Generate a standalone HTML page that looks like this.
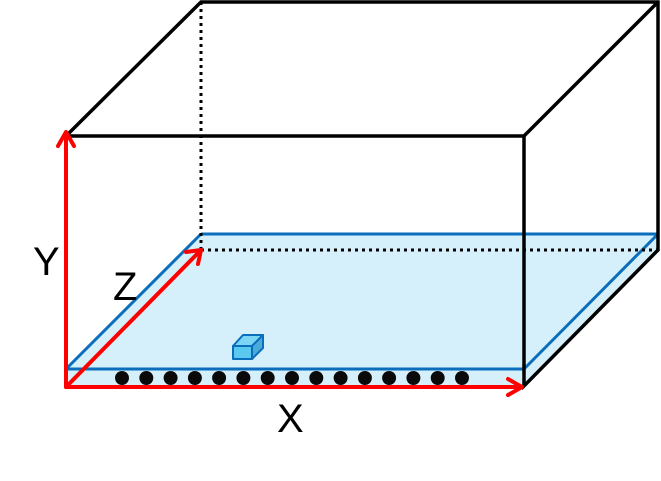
<!DOCTYPE html>
<html><head><style>html,body{margin:0;padding:0;background:#fff}</style></head>
<body>
<svg width="661" height="476" viewBox="0 0 661 476" xmlns="http://www.w3.org/2000/svg">
<!-- water -->
<polygon points="66,369 201,234 658,234 658,250 524,386 66,386" fill="#d6f0fb"/>
<g stroke="#0a6ebd" stroke-width="3" fill="none">
<line x1="201" y1="234" x2="658" y2="234"/>
<line x1="66" y1="369" x2="524" y2="369"/>
<line x1="66" y1="369" x2="201" y2="234"/>
<line x1="524" y1="369" x2="658" y2="234"/>
</g>
<!-- dotted hidden edges -->
<g stroke="#000" stroke-width="3" stroke-dasharray="3,4" fill="none">
<line x1="201" y1="2" x2="201" y2="250"/>
<line x1="201" y1="250" x2="658" y2="250"/>
</g>
<!-- box -->
<g stroke="#000" stroke-width="3.5" fill="none" stroke-linejoin="miter">
<polyline points="66,136 201,2 658,2 658,250 524,386 524,136 66,136"/>
<line x1="524" y1="136" x2="658" y2="2"/>
</g>
<!-- dots -->
<g fill="#0a0a0a">
<circle cx="122" cy="378" r="7"/><circle cx="146.3" cy="378" r="7"/><circle cx="170.6" cy="378" r="7"/><circle cx="194.9" cy="378" r="7"/><circle cx="219.1" cy="378" r="7"/><circle cx="243.4" cy="378" r="7"/><circle cx="267.7" cy="378" r="7"/><circle cx="292" cy="378" r="7"/><circle cx="316.3" cy="378" r="7"/><circle cx="340.6" cy="378" r="7"/><circle cx="364.9" cy="378" r="7"/><circle cx="389.1" cy="378" r="7"/><circle cx="413.4" cy="378" r="7"/><circle cx="437.7" cy="378" r="7"/><circle cx="462" cy="378" r="7"/>
</g>
<!-- cube -->
<g stroke="#0a6ebd" stroke-width="2" stroke-linejoin="round">
<polygon points="233,346 252,346 252,359 233,359" fill="#5bc8f0"/>
<polygon points="233,346 243,335 263,335 252,346" fill="#7dd5f5"/>
<polygon points="252,346 263,335 263,348 252,359" fill="#4aaad8"/>
</g>
<!-- axes -->
<g stroke="#ff0000" stroke-width="4" fill="none" stroke-linecap="round" stroke-linejoin="round">
<line x1="66" y1="387" x2="66" y2="134"/>
<polyline points="58,146 66,132 74,146"/>
<line x1="66" y1="387" x2="521" y2="387"/>
<polyline points="508,379 522,387 508,395"/>
<line x1="66" y1="387" x2="200" y2="251"/>
<polyline points="186,252 201,250 198,264"/>
</g>
<g font-family="Liberation Sans, DejaVu Sans, sans-serif" font-size="40" fill="#000">
<text x="33" y="275">Y</text>
<text x="113" y="300">Z</text>
<text x="277" y="432">X</text>
</g>
</svg>
</body></html>
